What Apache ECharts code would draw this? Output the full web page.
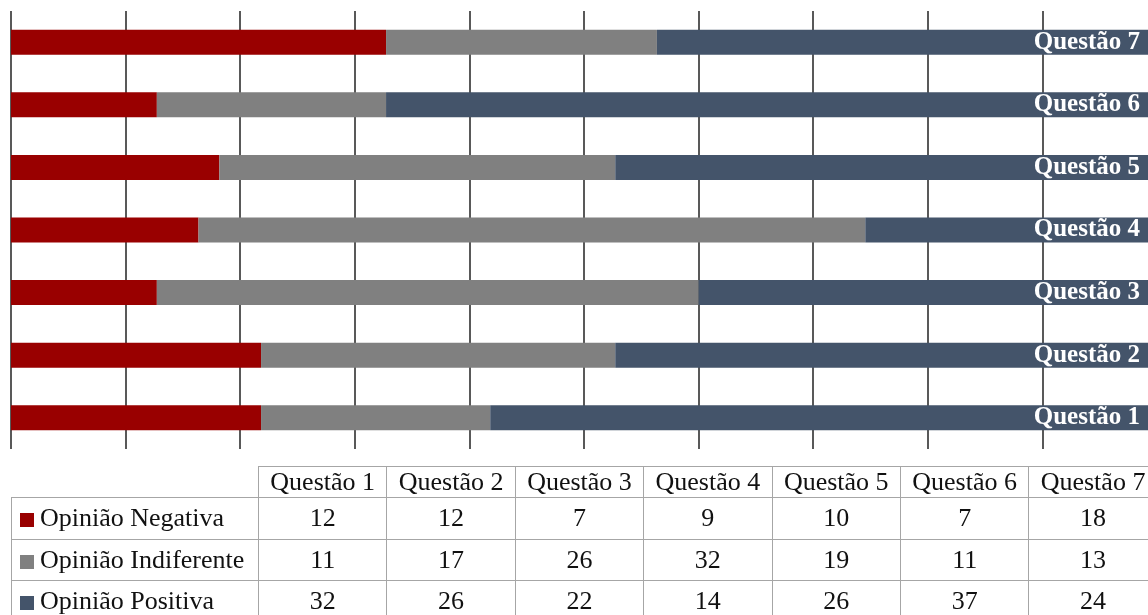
<!DOCTYPE html>
<html>
<head>
<meta charset="utf-8">
<script src="https://cdn.jsdelivr.net/npm/echarts@6/dist/echarts.min.js"></script>
<style>
  html, body { margin: 0; padding: 0; background: #fff; }
  #wrap { position: relative; width: 1148px; height: 615px; overflow: hidden; }
  #chart { position: absolute; left: 0; top: 0; width: 1200px; height: 615px; }
  #tbl {
    position: absolute; left: 11px; top: 466px; width: 1146px;
    border-collapse: collapse; table-layout: fixed;
    font-family: "Liberation Serif", serif; font-size: 26px; color: #111;
  }
  #tbl td, #tbl th {
    border: 1px solid #a6a6a6; padding: 0; font-weight: normal;
    text-align: center; white-space: nowrap; overflow: hidden;
  }
  #tbl th { height: 30px; line-height: 30px; }
  #tbl td { height: 40.5px; line-height: 40px; }
  #tbl th.blank { border: none; }
  #tbl td.name { text-align: left; padding-left: 8px; }
  .sw { display: inline-block; width: 14px; height: 14px; margin-right: 6px; vertical-align: -1px; }
</style>
</head>
<body>
<div id="wrap">
  <div id="chart"></div>
  <table id="tbl"></table>
</div>
<script>
// categorias (de baixo para cima no gráfico)
const categorias = ['Questão 1', 'Questão 2', 'Questão 3', 'Questão 4', 'Questão 5', 'Questão 6', 'Questão 7']
const opiniaoNegativa = [12, 12, 7, 9, 10, 7, 18]
const opiniaoIndiferente = [11, 17, 26, 32, 19, 11, 13]
const opiniaoPositiva = [32, 26, 22, 14, 26, 37, 24]
const nomesSeries = ['Opinião Negativa', 'Opinião Indiferente', 'Opinião Positiva']
const cores = ['#990000', '#808080', '#44546a']

// o gráfico continua além da borda direita (cortado pelo #wrap)
const chart = echarts.init(document.getElementById('chart'))
const option = {
  animation: false,
  color: cores,
  grid: { left: 11, top: 11, width: 1146, height: 438, containLabel: false },
  xAxis: {
    type: 'value',
    min: 0,
    max: 55,
    interval: 5.5,
    axisLabel: { show: false },
    axisLine: { show: false },
    axisTick: { show: false },
    splitLine: { show: true, lineStyle: { color: '#222', width: 1.5 } }
  },
  yAxis: {
    type: 'category',
    data: categorias,
    axisLabel: { show: false },
    axisLine: { show: false },
    axisTick: { show: false }
  },
  series: [
    { name: nomesSeries[0], type: 'bar', stack: 'total', barWidth: 25, data: opiniaoNegativa },
    { name: nomesSeries[1], type: 'bar', stack: 'total', barWidth: 25, data: opiniaoIndiferente },
    {
      name: nomesSeries[2], type: 'bar', stack: 'total', barWidth: 25, data: opiniaoPositiva,
      label: {
        show: true,
        position: 'insideRight',
        distance: 17,
        formatter: '{b}',
        color: '#fff',
        fontWeight: 'bold',
        fontSize: 25,
        fontFamily: 'Liberation Serif, serif'
      }
    }
  ]
}
option && chart.setOption(option)

// tabela de dados
const valores = [opiniaoNegativa, opiniaoIndiferente, opiniaoPositiva]
const tbl = document.getElementById('tbl')
let html = '<colgroup><col style="width:247px">'
categorias.forEach(() => { html += '<col style="width:128.4px">' })
html += '</colgroup><tr><th class="blank"></th>'
categorias.forEach(c => { html += '<th>' + c + '</th>' })
html += '</tr>'
nomesSeries.forEach((nome, i) => {
  html += '<tr><td class="name"><span class="sw" style="background:' + cores[i] + '"></span>' + nome + '</td>'
  valores[i].forEach(v => { html += '<td>' + v + '</td>' })
  html += '</tr>'
})
tbl.innerHTML = html
</script>
</body>
</html>
